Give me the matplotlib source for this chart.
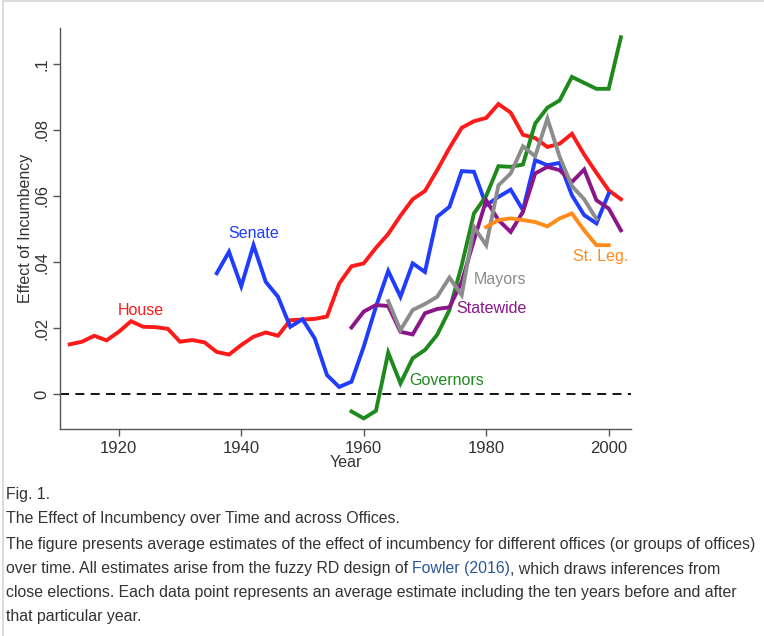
import matplotlib.pyplot as plt
from matplotlib.patches import Rectangle

# estimates (every 2 years)
house_years = list(range(1912, 2003, 2))
house = [.0151, .0159, .0177, .0163, .0189, .0221, .0204, .0203, .0198, .0159,
         .0164, .0157, .0128, .0120, .0149, .0174, .0187, .0177, .0224, .0226,
         .0228, .0235, .0335, .0387, .0396, .0443, .0485, .0540, .0590, .0615,
         .0678, .0745, .0806, .0826, .0836, .0878, .0852, .0785, .0775, .0748,
         .0758, .0788, .0725, .0670, .0617, .0590]

senate_years = list(range(1936, 2001, 2))
senate = [.0366, .0431, .0327, .0451, .0340, .0295, .0204, .0227, .0169, .0058,
          .0022, .0038, .0144, .0265, .0373, .0295, .0396, .0370, .0537, .0567,
          .0675, .0673, .0572, .0597, .0619, .0557, .0708, .0693, .0700, .0602,
          .0542, .0517, .0607]

gov_years = list(range(1958, 2003, 2))
governors = [-.0052, -.0073, -.0050, .0126, .0033, .0109, .0134, .0180, .0255,
             .0390, .0547, .0600, .0690, .0688, .0695, .0819, .0867, .0889,
             .0960, .0942, .0924, .0924, .1080]

state_years = list(range(1958, 2003, 2))
statewide = [.0202, .0250, .0270, .0267, .0189, .0181, .0245, .0258, .0263,
             .0340, .0466, .0587, .0527, .0491, .0552, .0668, .0688, .0678,
             .0642, .0680, .0587, .0562, .0496]

mayor_years = list(range(1964, 1999, 2))
mayors = [.0282, .0194, .0255, .0273, .0295, .0353, .0300, .0506, .0451, .0632,
          .0668, .0750, .0720, .0834, .0718, .0630, .0590, .0530]

leg_years = list(range(1980, 2001, 2))
st_leg = [.0506, .0527, .0532, .0527, .0521, .0508, .0532, .0547, .0496, .0451,
          .0451]

# name, colour, label position (year, value)
series = [
    ('House', house_years, house, '#ff1a1a', 1919.8, .0252),
    ('Senate', senate_years, senate, '#1f3cff', 1937.9, .0486),
    ('Governors', gov_years, governors, '#1e8a1e', 1967.4, .0043),
    ('Statewide', state_years, statewide, '#8a168a', 1975.1, .0258),
    ('Mayors', mayor_years, mayors, '#8c8c8c', 1978.0, .0347),
    ('St. Leg.', leg_years, st_leg, '#ff8c1a', 1994.1, .0418),
]

plt.rcParams['font.family'] = ['Liberation Sans', 'DejaVu Sans']

fig = plt.figure(figsize=(7.64, 6.36), dpi=100)
ax = fig.add_axes([60 / 764, 1 - 429.3 / 636, 570.7 / 764, 401.3 / 636])

ax.axhline(0, color='black', lw=1.3, ls=(0, (5, 3.5)))
for name, yrs, vals, col, lx, ly in series:
    ax.plot(yrs, vals, color=col, lw=2.8, solid_joinstyle='miter')
    ax.text(lx, ly, name, color=col, fontsize=11.5, ha='left', va='center')

ax.set_xlim(1910.4, 2003.6)
ax.set_ylim(-0.0106, 0.1108)
ax.set_xticks([1920, 1940, 1960, 1980, 2000])
ax.set_yticks([0, .02, .04, .06, .08, .1])
ax.set_yticklabels(['0', '.02', '.04', '.06', '.08', '.1'], rotation=90, va='center')
ax.spines['top'].set_visible(False)
ax.spines['right'].set_visible(False)
for s in ['left', 'bottom']:
    ax.spines[s].set_color('#555555')
    ax.spines[s].set_linewidth(1.0)
ax.tick_params(direction='out', length=5, width=1, color='#555555',
               labelcolor='#333333', labelsize=12)
ax.tick_params(axis='x', pad=3.5)
ax.tick_params(axis='y', pad=2.5)
ax.set_xlabel('Year', fontsize=11.5, color='#333333', labelpad=-1)
ax.set_ylabel('Effect of Incumbency', fontsize=11.5, color='#333333', labelpad=1)

# caption
cap_font = ['Liberation Sans Narrow', 'Liberation Sans', 'DejaVu Sans']
cap_col = '#333333'
cap_lines = [
    (495, 'Fig. 1.'),
    (519, 'The Effect of Incumbency over Time and across Offices.'),
    (545, 'The figure presents average estimates of the effect of incumbency '
          'for different offices (or groups of offices)'),
    (569, None),
    (593, 'close elections. Each data point represents an average estimate '
          'including the ten years before and after'),
    (617, 'that particular year.'),
]
fs = 11.4
renderer = fig.canvas.get_renderer()
for ypix, txt in cap_lines:
    y = 1 - ypix / 636
    if txt is not None:
        fig.text(6 / 764, y, txt, fontsize=fs, color=cap_col, family=cap_font,
                 va='center', ha='left')
    else:
        t1 = fig.text(6 / 764, y, 'over time. All estimates arise from the fuzzy RD design of ',
                      fontsize=fs, color=cap_col, family=cap_font, va='center', ha='left')
        x1 = t1.get_window_extent(renderer).x1
        t2 = fig.text(x1 / 764, y, 'Fowler (2016)', fontsize=fs, color='#2b5797',
                      family=cap_font, va='center', ha='left')
        x2 = t2.get_window_extent(renderer).x1
        fig.text(x2 / 764, y, ', which draws inferences from', fontsize=fs,
                 color=cap_col, family=cap_font, va='center', ha='left')

# light frame round the figure (top and left edges visible)
fig.patches.append(Rectangle((2.5 / 764, -0.1), 1.2, 1.1 - 1.5 / 636,
                             transform=fig.transFigure, fill=False,
                             edgecolor='#d4d4d4', lw=1.2))

fig.savefig('out.png', dpi=100)
